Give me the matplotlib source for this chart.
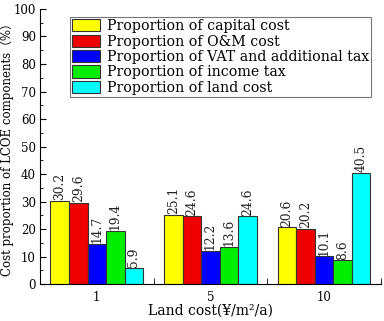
import matplotlib
matplotlib.use("Agg")
import matplotlib.pyplot as plt
from matplotlib.ticker import MultipleLocator
import numpy as np

plt.rcParams["font.family"] = ["DejaVu Serif", "Noto Sans CJK SC", "DejaVu Sans"]

land_costs = ["1", "5", "10"]
series_names = [
    "Proportion of capital cost",
    "Proportion of O&M cost",
    "Proportion of VAT and additional tax",
    "Proportion of income tax",
    "Proportion of land cost",
]
capital = [30.2, 25.1, 20.6]
om = [29.6, 24.6, 20.2]
vat = [14.7, 12.2, 10.1]
income = [19.4, 13.6, 8.6]
land = [5.9, 24.6, 40.5]
colors = ["#ffff00", "#ee0000", "#0000ff", "#00ee00", "#00ffff"]

series = [capital, om, vat, income, land]
x = np.arange(1, len(land_costs) + 1)
width = 0.163

fig = plt.figure(figsize=(3.84, 3.21), dpi=100)
ax = fig.add_axes([0.104, 0.115, 0.888, 0.857])

for i, (vals, name, c) in enumerate(zip(series, series_names, colors)):
    pos = x + (i - 2) * width
    bars = ax.bar(pos, vals, width, color=c, edgecolor="#333333", linewidth=0.8, label=name)
    for b, v in zip(bars, vals):
        ax.text(b.get_x() + b.get_width() / 2, v + 0.2, f"{v:.1f}", rotation=90,
                ha="center", va="bottom", fontsize=8.8, color="#222222")

ax.set_xlim(0.5, 3.5)
ax.set_ylim(0, 100)
ax.set_xticks(x)
ax.set_xticklabels(land_costs)
ax.set_xticks([1.5, 2.5, 3.5], minor=True)
ax.tick_params(axis="x", which="major", length=0, labelsize=8.5, pad=5)
ax.tick_params(axis="x", which="minor", length=4, direction="in")
ax.yaxis.set_major_locator(MultipleLocator(10))
ax.yaxis.set_minor_locator(MultipleLocator(5))
ax.tick_params(axis="y", which="major", length=4, direction="in", labelsize=8.5, pad=3)
ax.tick_params(axis="y", which="minor", length=2.5, direction="in")
ax.spines["top"].set_visible(False)
ax.spines["right"].set_visible(False)

ax.set_xlabel("Land cost(¥/m²/a)", fontsize=10, labelpad=0)
ax.set_ylabel("Cost proportion of LCOE components（%）", fontsize=8.5)
ax.yaxis.set_label_coords(-0.075, 0.5)

leg = ax.legend(loc="upper left", bbox_to_anchor=(0.088, 0.971), fontsize=10.2,
                frameon=True, fancybox=False, edgecolor="#555555",
                handlelength=1.95, handleheight=0.95, handletextpad=0.5,
                labelspacing=0.1, borderpad=0.15, borderaxespad=0)
leg.get_frame().set_linewidth(0.8)

fig.savefig("out.png", dpi=100)
